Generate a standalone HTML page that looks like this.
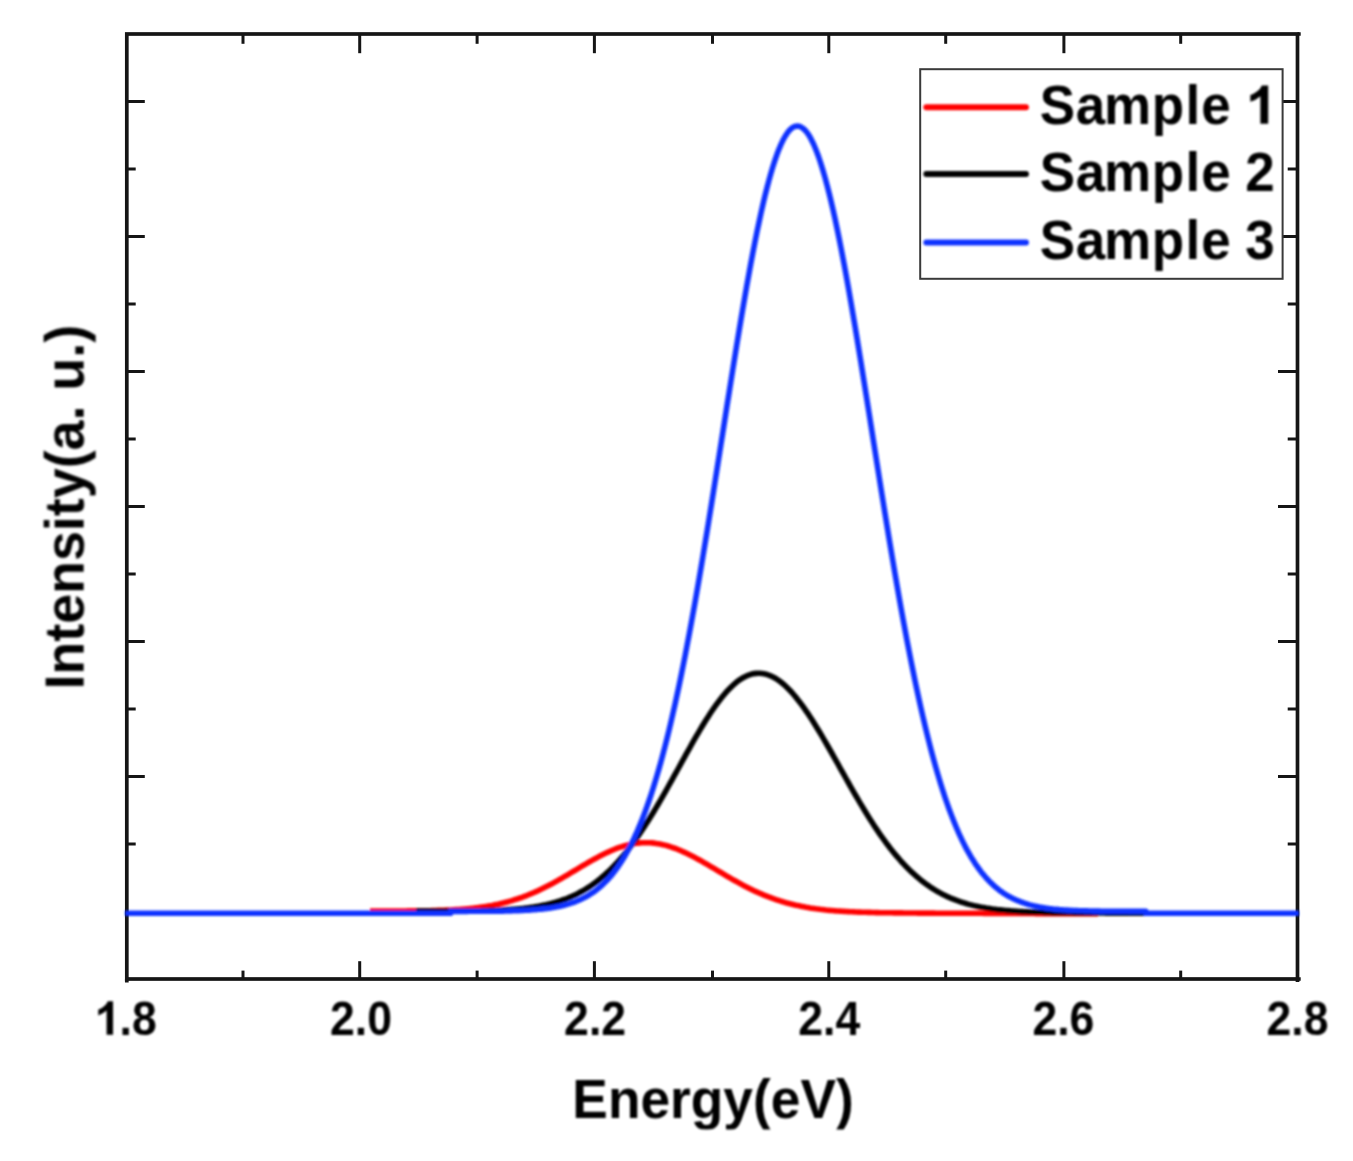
<!DOCTYPE html>
<html><head><meta charset="utf-8"><title>PL spectra</title>
<style>
html,body{margin:0;padding:0;background:#fff;}
body{width:1353px;height:1161px;overflow:hidden;}
svg{display:block;}
.t{font-family:"Liberation Sans",sans-serif;font-weight:bold;fill:#000;}
</style></head><body>
<svg width="1353" height="1161" viewBox="0 0 1353 1161">
<defs><filter id="soft" x="0" y="0" width="1353" height="1161" filterUnits="userSpaceOnUse"><feGaussianBlur stdDeviation="0.8"/></filter></defs>
<rect width="1353" height="1161" fill="#fff"/>
<rect x="126.8" y="34.0" width="1170.7" height="945.0" fill="none" stroke="#151515" stroke-width="3.7"/>
<path d="M126.8 979.0V982.4M1297.5 979.0V982.0M1297.5 34.0H1300.7M1297.5 979.0H1300.7" stroke="#151515" stroke-width="3.7" fill="none"/>
<line x1="243.0" y1="979.0" x2="243.0" y2="970.6" stroke="#151515" stroke-width="3.0"/>
<line x1="243.0" y1="34.0" x2="243.0" y2="43.8" stroke="#151515" stroke-width="3.0"/>
<line x1="359.7" y1="979.0" x2="359.7" y2="961.2" stroke="#151515" stroke-width="3.0"/>
<line x1="359.7" y1="34.0" x2="359.7" y2="53.2" stroke="#151515" stroke-width="3.0"/>
<line x1="477.1" y1="979.0" x2="477.1" y2="970.6" stroke="#151515" stroke-width="3.0"/>
<line x1="477.1" y1="34.0" x2="477.1" y2="43.8" stroke="#151515" stroke-width="3.0"/>
<line x1="594.4" y1="979.0" x2="594.4" y2="961.2" stroke="#151515" stroke-width="3.0"/>
<line x1="594.4" y1="34.0" x2="594.4" y2="53.2" stroke="#151515" stroke-width="3.0"/>
<line x1="712.5" y1="979.0" x2="712.5" y2="970.6" stroke="#151515" stroke-width="3.0"/>
<line x1="712.5" y1="34.0" x2="712.5" y2="43.8" stroke="#151515" stroke-width="3.0"/>
<line x1="828.8" y1="979.0" x2="828.8" y2="961.2" stroke="#151515" stroke-width="3.0"/>
<line x1="828.8" y1="34.0" x2="828.8" y2="53.2" stroke="#151515" stroke-width="3.0"/>
<line x1="945.7" y1="979.0" x2="945.7" y2="970.6" stroke="#151515" stroke-width="3.0"/>
<line x1="945.7" y1="34.0" x2="945.7" y2="43.8" stroke="#151515" stroke-width="3.0"/>
<line x1="1063.9" y1="979.0" x2="1063.9" y2="961.2" stroke="#151515" stroke-width="3.0"/>
<line x1="1063.9" y1="34.0" x2="1063.9" y2="53.2" stroke="#151515" stroke-width="3.0"/>
<line x1="1180.7" y1="979.0" x2="1180.7" y2="970.6" stroke="#151515" stroke-width="3.0"/>
<line x1="1180.7" y1="34.0" x2="1180.7" y2="43.8" stroke="#151515" stroke-width="3.0"/>
<line x1="126.8" y1="844.0" x2="135.7" y2="844.0" stroke="#151515" stroke-width="3.0"/>
<line x1="1297.5" y1="844.0" x2="1287.7" y2="844.0" stroke="#151515" stroke-width="3.0"/>
<line x1="126.8" y1="776.5" x2="144.8" y2="776.5" stroke="#151515" stroke-width="3.0"/>
<line x1="1297.5" y1="776.5" x2="1278.0" y2="776.5" stroke="#151515" stroke-width="3.0"/>
<line x1="126.8" y1="709.0" x2="135.7" y2="709.0" stroke="#151515" stroke-width="3.0"/>
<line x1="1297.5" y1="709.0" x2="1287.7" y2="709.0" stroke="#151515" stroke-width="3.0"/>
<line x1="126.8" y1="641.5" x2="144.8" y2="641.5" stroke="#151515" stroke-width="3.0"/>
<line x1="1297.5" y1="641.5" x2="1278.0" y2="641.5" stroke="#151515" stroke-width="3.0"/>
<line x1="126.8" y1="574.0" x2="135.7" y2="574.0" stroke="#151515" stroke-width="3.0"/>
<line x1="1297.5" y1="574.0" x2="1287.7" y2="574.0" stroke="#151515" stroke-width="3.0"/>
<line x1="126.8" y1="506.5" x2="144.8" y2="506.5" stroke="#151515" stroke-width="3.0"/>
<line x1="1297.5" y1="506.5" x2="1278.0" y2="506.5" stroke="#151515" stroke-width="3.0"/>
<line x1="126.8" y1="439.0" x2="135.7" y2="439.0" stroke="#151515" stroke-width="3.0"/>
<line x1="1297.5" y1="439.0" x2="1287.7" y2="439.0" stroke="#151515" stroke-width="3.0"/>
<line x1="126.8" y1="371.5" x2="144.8" y2="371.5" stroke="#151515" stroke-width="3.0"/>
<line x1="1297.5" y1="371.5" x2="1278.0" y2="371.5" stroke="#151515" stroke-width="3.0"/>
<line x1="126.8" y1="304.0" x2="135.7" y2="304.0" stroke="#151515" stroke-width="3.0"/>
<line x1="1297.5" y1="304.0" x2="1287.7" y2="304.0" stroke="#151515" stroke-width="3.0"/>
<line x1="126.8" y1="236.5" x2="144.8" y2="236.5" stroke="#151515" stroke-width="3.0"/>
<line x1="1297.5" y1="236.5" x2="1278.0" y2="236.5" stroke="#151515" stroke-width="3.0"/>
<line x1="126.8" y1="169.0" x2="135.7" y2="169.0" stroke="#151515" stroke-width="3.0"/>
<line x1="1297.5" y1="169.0" x2="1287.7" y2="169.0" stroke="#151515" stroke-width="3.0"/>
<line x1="126.8" y1="101.5" x2="144.8" y2="101.5" stroke="#151515" stroke-width="3.0"/>
<line x1="1297.5" y1="101.5" x2="1278.0" y2="101.5" stroke="#151515" stroke-width="3.0"/>
<g filter="url(#soft)">
<polyline points="370.0,911.0 372.0,911.0 374.0,911.0 376.0,911.0 378.0,911.0 380.0,911.0 382.0,911.0 384.0,911.0 386.0,911.0 388.0,911.0 390.0,911.0 392.0,911.0 394.0,911.0 396.0,911.0 398.0,911.0 400.0,911.0 402.0,911.0 404.0,911.0 406.0,911.0 408.0,910.9 410.0,910.9 412.0,910.9 414.0,910.9 416.0,910.9 418.0,910.8 420.0,910.8 422.0,910.8 424.0,910.8 426.0,910.7 428.0,910.7 430.0,910.7 432.0,910.6 434.0,910.6 436.0,910.5 438.0,910.4 440.0,910.4 442.0,910.3 444.0,910.2 446.0,910.1 448.0,910.1 450.0,910.0 452.0,909.9 454.0,909.7 456.0,909.6 458.0,909.5 460.0,909.4 462.0,909.2 464.0,909.0 466.0,908.9 468.0,908.7 470.0,908.5 472.0,908.3 474.0,908.1 476.0,907.8 478.0,907.6 480.0,907.3 482.0,907.0 484.0,906.7 486.0,906.4 488.0,906.1 490.0,905.7 492.0,905.4 494.0,905.0 496.0,904.6 498.0,904.2 500.0,903.7 502.0,903.2 504.0,902.8 506.0,902.2 508.0,901.7 510.0,901.1 512.0,900.6 514.0,899.9 516.0,899.3 518.0,898.7 520.0,898.0 522.0,897.3 524.0,896.5 526.0,895.8 528.0,895.0 530.0,894.2 532.0,893.3 534.0,892.5 536.0,891.6 538.0,890.7 540.0,889.7 542.0,888.8 544.0,887.8 546.0,886.8 548.0,885.8 550.0,884.7 552.0,883.7 554.0,882.6 556.0,881.5 558.0,880.4 560.0,879.2 562.0,878.1 564.0,876.9 566.0,875.8 568.0,874.6 570.0,873.4 572.0,872.2 574.0,871.0 576.0,869.8 578.0,868.6 580.0,867.4 582.0,866.2 584.0,865.0 586.0,863.9 588.0,862.7 590.0,861.5 592.0,860.4 594.0,859.3 596.0,858.2 598.0,857.1 600.0,856.0 602.0,855.0 604.0,854.0 606.0,853.0 608.0,852.1 610.0,851.2 612.0,850.3 614.0,849.5 616.0,848.7 618.0,847.9 620.0,847.2 622.0,846.6 624.0,845.9 626.0,845.4 628.0,844.9 630.0,844.4 632.0,844.0 634.0,843.6 636.0,843.3 638.0,843.1 640.0,842.9 642.0,842.8 644.0,842.7 646.0,842.7 648.0,842.7 650.0,842.8 652.0,842.9 654.0,843.1 656.0,843.4 658.0,843.7 660.0,844.0 662.0,844.5 664.0,844.9 666.0,845.4 668.0,846.0 670.0,846.6 672.0,847.3 674.0,848.0 676.0,848.7 678.0,849.5 680.0,850.3 682.0,851.2 684.0,852.1 686.0,853.0 688.0,854.0 690.0,855.0 692.0,856.0 694.0,857.0 696.0,858.1 698.0,859.2 700.0,860.3 702.0,861.4 704.0,862.6 706.0,863.7 708.0,864.9 710.0,866.1 712.0,867.3 714.0,868.4 716.0,869.6 718.0,870.8 720.0,872.0 722.0,873.2 724.0,874.4 726.0,875.6 728.0,876.8 730.0,877.9 732.0,879.1 734.0,880.2 736.0,881.3 738.0,882.4 740.0,883.5 742.0,884.6 744.0,885.7 746.0,886.7 748.0,887.7 750.0,888.7 752.0,889.7 754.0,890.7 756.0,891.6 758.0,892.5 760.0,893.4 762.0,894.2 764.0,895.1 766.0,895.9 768.0,896.7 770.0,897.4 772.0,898.2 774.0,898.9 776.0,899.6 778.0,900.2 780.0,900.9 782.0,901.5 784.0,902.1 786.0,902.7 788.0,903.2 790.0,903.7 792.0,904.2 794.0,904.7 796.0,905.2 798.0,905.6 800.0,906.0 802.0,906.4 804.0,906.8 806.0,907.2 808.0,907.5 810.0,907.9 812.0,908.2 814.0,908.5 816.0,908.8 818.0,909.0 820.0,909.3 822.0,909.5 824.0,909.7 826.0,910.0 828.0,910.2 830.0,910.4 832.0,910.5 834.0,910.7 836.0,910.9 838.0,911.0 840.0,911.1 842.0,911.3 844.0,911.4 846.0,911.5 848.0,911.6 850.0,911.7 852.0,911.8 854.0,911.9 856.0,912.0 858.0,912.1 860.0,912.1 862.0,912.2 864.0,912.3 866.0,912.3 868.0,912.4 870.0,912.4 872.0,912.5 874.0,912.5 876.0,912.6 878.0,912.6 880.0,912.7 882.0,912.7 884.0,912.7 886.0,912.8 888.0,912.8 890.0,912.8 892.0,912.8 894.0,912.9 896.0,912.9 898.0,912.9 900.0,912.9 902.0,912.9 904.0,913.0 906.0,913.0 908.0,913.0 910.0,913.0 912.0,913.0 914.0,913.0 916.0,913.0 918.0,913.1 920.0,913.1 922.0,913.1 924.0,913.1 926.0,913.1 928.0,913.1 930.0,913.1 932.0,913.1 934.0,913.1 936.0,913.2 938.0,913.2 940.0,913.2 942.0,913.2 944.0,913.2 946.0,913.2 948.0,913.2 950.0,913.2 952.0,913.2 954.0,913.2 956.0,913.2 958.0,913.3 960.0,913.3 962.0,913.3 964.0,913.3 966.0,913.3 968.0,913.3 970.0,913.3 972.0,913.3 974.0,913.3 976.0,913.3 978.0,913.3 980.0,913.3 982.0,913.3 984.0,913.4 986.0,913.4 988.0,913.4 990.0,913.4 992.0,913.4 994.0,913.4 996.0,913.4 998.0,913.4 1000.0,913.4 1002.0,913.4 1004.0,913.4 1006.0,913.4 1008.0,913.4 1010.0,913.5 1012.0,913.5 1014.0,913.5 1016.0,913.5 1018.0,913.5 1020.0,913.5 1022.0,913.5 1024.0,913.5 1026.0,913.5 1028.0,913.5 1030.0,913.5 1032.0,913.5 1034.0,913.5 1036.0,913.6 1038.0,913.6 1040.0,913.6 1042.0,913.6 1044.0,913.6 1046.0,913.6 1048.0,913.6 1050.0,913.6 1052.0,913.6 1054.0,913.6 1056.0,913.6 1058.0,913.6 1060.0,913.6 1062.0,913.7 1064.0,913.7 1066.0,913.7 1068.0,913.7 1070.0,913.7 1072.0,913.7 1074.0,913.7 1076.0,913.7 1078.0,913.7 1080.0,913.7 1082.0,913.7 1084.0,913.7 1086.0,913.7 1088.0,913.8 1090.0,913.8 1092.0,913.8 1094.0,913.8 1096.0,913.8 1098.0,913.8" fill="none" stroke="#ff0000" stroke-width="5.6" stroke-linejoin="round" stroke-linecap="butt"/>
<polyline points="416.0,911.0 418.0,911.0 420.0,911.0 422.0,911.0 424.0,911.0 426.0,911.0 428.0,911.0 430.0,911.0 432.0,911.0 434.0,911.0 436.0,911.0 438.0,911.0 440.0,911.0 442.0,911.0 444.0,911.0 446.0,911.0 448.0,911.0 450.0,911.0 452.0,911.0 454.0,911.0 456.0,910.9 458.0,910.9 460.0,910.9 462.0,910.9 464.0,910.9 466.0,910.9 468.0,910.9 470.0,910.8 472.0,910.8 474.0,910.8 476.0,910.8 478.0,910.7 480.0,910.7 482.0,910.6 484.0,910.6 486.0,910.5 488.0,910.5 490.0,910.4 492.0,910.4 494.0,910.3 496.0,910.2 498.0,910.1 500.0,910.0 502.0,910.0 504.0,909.8 506.0,909.7 508.0,909.6 510.0,909.5 512.0,909.3 514.0,909.2 516.0,909.0 518.0,908.9 520.0,908.7 522.0,908.5 524.0,908.3 526.0,908.0 528.0,907.8 530.0,907.5 532.0,907.2 534.0,906.9 536.0,906.6 538.0,906.3 540.0,905.9 542.0,905.5 544.0,905.1 546.0,904.7 548.0,904.2 550.0,903.8 552.0,903.3 554.0,902.7 556.0,902.1 558.0,901.5 560.0,900.9 562.0,900.2 564.0,899.5 566.0,898.8 568.0,898.0 570.0,897.1 572.0,896.3 574.0,895.4 576.0,894.4 578.0,893.4 580.0,892.3 582.0,891.2 584.0,890.1 586.0,888.9 588.0,887.6 590.0,886.3 592.0,885.0 594.0,883.5 596.0,882.1 598.0,880.5 600.0,878.9 602.0,877.2 604.0,875.5 606.0,873.7 608.0,871.9 610.0,870.0 612.0,868.0 614.0,865.9 616.0,863.8 618.0,861.6 620.0,859.4 622.0,857.1 624.0,854.7 626.0,852.2 628.0,849.7 630.0,847.1 632.0,844.5 634.0,841.7 636.0,838.9 638.0,836.1 640.0,833.2 642.0,830.2 644.0,827.2 646.0,824.1 648.0,821.0 650.0,817.8 652.0,814.5 654.0,811.2 656.0,807.9 658.0,804.5 660.0,801.1 662.0,797.6 664.0,794.1 666.0,790.6 668.0,787.0 670.0,783.4 672.0,779.8 674.0,776.2 676.0,772.6 678.0,769.0 680.0,765.3 682.0,761.7 684.0,758.1 686.0,754.4 688.0,750.8 690.0,747.3 692.0,743.7 694.0,740.2 696.0,736.7 698.0,733.3 700.0,729.9 702.0,726.5 704.0,723.2 706.0,720.0 708.0,716.9 710.0,713.8 712.0,710.8 714.0,707.9 716.0,705.0 718.0,702.3 720.0,699.7 722.0,697.1 724.0,694.7 726.0,692.4 728.0,690.2 730.0,688.1 732.0,686.2 734.0,684.3 736.0,682.6 738.0,681.1 740.0,679.6 742.0,678.3 744.0,677.2 746.0,676.2 748.0,675.3 750.0,674.6 752.0,674.0 754.0,673.6 756.0,673.4 758.0,673.2 760.0,673.3 762.0,673.5 764.0,673.8 766.0,674.2 768.0,674.9 770.0,675.6 772.0,676.5 774.0,677.5 776.0,678.7 778.0,680.0 780.0,681.4 782.0,683.0 784.0,684.7 786.0,686.5 788.0,688.5 790.0,690.5 792.0,692.7 794.0,695.0 796.0,697.4 798.0,699.9 800.0,702.5 802.0,705.1 804.0,707.9 806.0,710.8 808.0,713.7 810.0,716.7 812.0,719.8 814.0,723.0 816.0,726.2 818.0,729.5 820.0,732.8 822.0,736.2 824.0,739.6 826.0,743.0 828.0,746.5 830.0,750.0 832.0,753.5 834.0,757.1 836.0,760.7 838.0,764.2 840.0,767.8 842.0,771.4 844.0,774.9 846.0,778.5 848.0,782.0 850.0,785.6 852.0,789.1 854.0,792.6 856.0,796.0 858.0,799.4 860.0,802.8 862.0,806.2 864.0,809.5 866.0,812.8 868.0,816.0 870.0,819.2 872.0,822.3 874.0,825.4 876.0,828.4 878.0,831.4 880.0,834.3 882.0,837.1 884.0,839.9 886.0,842.7 888.0,845.3 890.0,848.0 892.0,850.5 894.0,853.0 896.0,855.4 898.0,857.7 900.0,860.0 902.0,862.3 904.0,864.4 906.0,866.5 908.0,868.5 910.0,870.5 912.0,872.4 914.0,874.2 916.0,876.0 918.0,877.7 920.0,879.4 922.0,881.0 924.0,882.5 926.0,884.0 928.0,885.4 930.0,886.8 932.0,888.1 934.0,889.4 936.0,890.6 938.0,891.8 940.0,892.9 942.0,894.0 944.0,895.0 946.0,895.9 948.0,896.9 950.0,897.8 952.0,898.6 954.0,899.4 956.0,900.2 958.0,900.9 960.0,901.6 962.0,902.3 964.0,902.9 966.0,903.5 968.0,904.1 970.0,904.6 972.0,905.1 974.0,905.6 976.0,906.1 978.0,906.5 980.0,906.9 982.0,907.3 984.0,907.6 986.0,908.0 988.0,908.3 990.0,908.6 992.0,908.9 994.0,909.2 996.0,909.4 998.0,909.7 1000.0,909.9 1002.0,910.1 1004.0,910.3 1006.0,910.5 1008.0,910.6 1010.0,910.8 1012.0,911.0 1014.0,911.1 1016.0,911.2 1018.0,911.4 1020.0,911.5 1022.0,911.6 1024.0,911.7 1026.0,911.8 1028.0,911.9 1030.0,912.0 1032.0,912.0 1034.0,912.1 1036.0,912.2 1038.0,912.2 1040.0,912.3 1042.0,912.3 1044.0,912.4 1046.0,912.4 1048.0,912.5 1050.0,912.5 1052.0,912.6 1054.0,912.6 1056.0,912.6 1058.0,912.7 1060.0,912.7 1062.0,912.7 1064.0,912.8 1066.0,912.8 1068.0,912.8 1070.0,912.8 1072.0,912.8 1074.0,912.9 1076.0,912.9 1078.0,912.9 1080.0,912.9 1082.0,912.9 1084.0,912.9 1086.0,912.9 1088.0,913.0 1090.0,913.0 1092.0,913.0 1094.0,913.0 1096.0,913.0 1098.0,913.0 1100.0,913.0 1102.0,913.0 1104.0,913.0 1106.0,913.1 1108.0,913.1 1110.0,913.1 1112.0,913.1 1114.0,913.1 1116.0,913.1 1118.0,913.1 1120.0,913.1 1122.0,913.1 1124.0,913.1 1126.0,913.1 1128.0,913.1 1130.0,913.1 1132.0,913.2 1134.0,913.2 1136.0,913.2 1138.0,913.2 1140.0,913.2 1142.0,913.2 1144.0,913.2 1146.0,913.2" fill="none" stroke="#000000" stroke-width="5.6" stroke-linejoin="round" stroke-linecap="butt"/>
<polyline points="125.0,913.2 127.0,913.2 129.0,913.2 131.0,913.2 133.0,913.2 135.0,913.2 137.0,913.2 139.0,913.2 141.0,913.2 143.0,913.2 145.0,913.2 147.0,913.2 149.0,913.2 151.0,913.2 153.0,913.2 155.0,913.2 157.0,913.2 159.0,913.2 161.0,913.2 163.0,913.2 165.0,913.2 167.0,913.2 169.0,913.2 171.0,913.2 173.0,913.2 175.0,913.2 177.0,913.2 179.0,913.2 181.0,913.2 183.0,913.2 185.0,913.2 187.0,913.2 189.0,913.2 191.0,913.2 193.0,913.2 195.0,913.2 197.0,913.2 199.0,913.2 201.0,913.2 203.0,913.2 205.0,913.2 207.0,913.2 209.0,913.2 211.0,913.2 213.0,913.2 215.0,913.2 217.0,913.2 219.0,913.2 221.0,913.2 223.0,913.2 225.0,913.2 227.0,913.2 229.0,913.2 231.0,913.2 233.0,913.2 235.0,913.2 237.0,913.2 239.0,913.2 241.0,913.2 243.0,913.2 245.0,913.2 247.0,913.2 249.0,913.2 251.0,913.2 253.0,913.2 255.0,913.2 257.0,913.2 259.0,913.2 261.0,913.2 263.0,913.2 265.0,913.2 267.0,913.2 269.0,913.2 271.0,913.2 273.0,913.2 275.0,913.2 277.0,913.2 279.0,913.2 281.0,913.2 283.0,913.2 285.0,913.2 287.0,913.2 289.0,913.2 291.0,913.2 293.0,913.2 295.0,913.2 297.0,913.2 299.0,913.2 301.0,913.2 303.0,913.2 305.0,913.2 307.0,913.2 309.0,913.2 311.0,913.2 313.0,913.2 315.0,913.2 317.0,913.2 319.0,913.2 321.0,913.2 323.0,913.2 325.0,913.2 327.0,913.2 329.0,913.2 331.0,913.2 333.0,913.2 335.0,913.2 337.0,913.2 339.0,913.2 341.0,913.2 343.0,913.2 345.0,913.2 347.0,913.2 349.0,913.2 351.0,913.2 353.0,913.2 355.0,913.2 357.0,913.2 359.0,913.2 361.0,913.2 363.0,913.2 365.0,913.2 367.0,913.2 369.0,913.2 371.0,913.2 373.0,913.2 375.0,913.2 377.0,913.2 379.0,913.2 381.0,913.2 383.0,913.2 385.0,913.2 387.0,913.2 389.0,913.2 391.0,913.2 393.0,913.2 395.0,913.2 397.0,913.2 399.0,913.2 401.0,913.2 403.0,913.2 405.0,913.2 407.0,913.2 409.0,913.2 411.0,913.2 413.0,913.2 415.0,913.2 417.0,913.2 419.0,913.2 421.0,913.2 423.0,913.2 425.0,913.2 427.0,913.2 429.0,913.2 431.0,913.2 433.0,913.2 435.0,913.2 437.0,913.2 439.0,913.2 441.0,913.2 443.0,913.2 445.0,913.2 447.0,913.2 449.0,913.2 450.5,913.2 450.5,911.4 451.0,911.4 453.0,911.4 455.0,911.4 457.0,911.4 459.0,911.4 461.0,911.4 463.0,911.4 465.0,911.4 467.0,911.4 469.0,911.3 471.0,911.3 473.0,911.3 475.0,911.3 477.0,911.3 479.0,911.3 481.0,911.3 483.0,911.3 485.0,911.3 487.0,911.3 489.0,911.2 491.0,911.2 493.0,911.2 495.0,911.2 497.0,911.1 499.0,911.1 501.0,911.1 503.0,911.1 505.0,911.0 507.0,911.0 509.0,910.9 511.0,910.9 513.0,910.8 515.0,910.8 517.0,910.7 519.0,910.6 521.0,910.5 523.0,910.4 525.0,910.3 527.0,910.2 529.0,910.1 531.0,910.0 533.0,909.8 535.0,909.7 537.0,909.5 539.0,909.3 541.0,909.1 543.0,908.9 545.0,908.7 547.0,908.4 549.0,908.2 551.0,907.9 553.0,907.6 555.0,907.2 557.0,906.8 559.0,906.4 561.0,906.0 563.0,905.5 565.0,905.0 567.0,904.4 569.0,903.9 571.0,903.2 573.0,902.5 575.0,901.8 577.0,901.0 579.0,900.2 581.0,899.3 583.0,898.3 585.0,897.3 587.0,896.2 589.0,895.0 591.0,893.7 593.0,892.4 595.0,890.9 597.0,889.4 599.0,887.8 601.0,886.1 603.0,884.2 605.0,882.3 607.0,880.3 609.0,878.1 611.0,875.8 613.0,873.4 615.0,870.8 617.0,868.1 619.0,865.2 621.0,862.2 623.0,859.0 625.0,855.7 627.0,852.2 629.0,848.5 631.0,844.6 633.0,840.6 635.0,836.3 637.0,831.9 639.0,827.2 641.0,822.4 643.0,817.3 645.0,812.0 647.0,806.5 649.0,800.8 651.0,794.8 653.0,788.6 655.0,782.2 657.0,775.5 659.0,768.6 661.0,761.4 663.0,754.0 665.0,746.4 667.0,738.5 669.0,730.3 671.0,721.9 673.0,713.2 675.0,704.3 677.0,695.2 679.0,685.8 681.0,676.1 683.0,666.3 685.0,656.2 687.0,645.8 689.0,635.3 691.0,624.5 693.0,613.5 695.0,602.4 697.0,591.0 699.0,579.5 701.0,567.7 703.0,555.9 705.0,543.8 707.0,531.7 709.0,519.4 711.0,507.0 713.0,494.5 715.0,481.9 717.0,469.3 719.0,456.6 721.0,443.9 723.0,431.2 725.0,418.5 727.0,405.8 729.0,393.2 731.0,380.6 733.0,368.1 735.0,355.7 737.0,343.4 739.0,331.3 741.0,319.3 743.0,307.5 745.0,295.9 747.0,284.6 749.0,273.4 751.0,262.6 753.0,252.0 755.0,241.8 757.0,231.8 759.0,222.3 761.0,213.0 763.0,204.2 765.0,195.7 767.0,187.7 769.0,180.1 771.0,173.0 773.0,166.3 775.0,160.1 777.0,154.3 779.0,149.1 781.0,144.4 783.0,140.2 785.0,136.5 787.0,133.4 789.0,130.8 791.0,128.8 793.0,127.3 795.0,126.4 797.0,126.0 799.0,126.2 801.0,127.0 803.0,128.3 805.0,130.1 807.0,132.5 809.0,135.4 811.0,138.9 813.0,142.9 815.0,147.5 817.0,152.5 819.0,158.0 821.0,164.1 823.0,170.6 825.0,177.5 827.0,184.9 829.0,192.8 831.0,201.0 833.0,209.7 835.0,218.7 837.0,228.2 839.0,237.9 841.0,248.0 843.0,258.4 845.0,269.1 847.0,280.1 849.0,291.3 851.0,302.8 853.0,314.4 855.0,326.3 857.0,338.3 859.0,350.5 861.0,362.8 863.0,375.2 865.0,387.7 867.0,400.3 869.0,412.9 871.0,425.5 873.0,438.2 875.0,450.9 877.0,463.5 879.0,476.1 881.0,488.7 883.0,501.1 885.0,513.5 887.0,525.8 889.0,538.0 891.0,550.0 893.0,561.9 895.0,573.7 897.0,585.3 899.0,596.7 901.0,607.9 903.0,618.9 905.0,629.8 907.0,640.4 909.0,650.8 911.0,661.0 913.0,670.9 915.0,680.7 917.0,690.1 919.0,699.4 921.0,708.4 923.0,717.1 925.0,725.7 927.0,733.9 929.0,741.9 931.0,749.7 933.0,757.2 935.0,764.5 937.0,771.5 939.0,778.3 941.0,784.9 943.0,791.2 945.0,797.3 947.0,803.1 949.0,808.7 951.0,814.1 953.0,819.3 955.0,824.3 957.0,829.0 959.0,833.6 961.0,837.9 963.0,842.1 965.0,846.1 967.0,849.8 969.0,853.4 971.0,856.9 973.0,860.1 975.0,863.3 977.0,866.2 979.0,869.0 981.0,871.7 983.0,874.2 985.0,876.5 987.0,878.8 989.0,880.9 991.0,882.9 993.0,884.8 995.0,886.6 997.0,888.3 999.0,889.9 1001.0,891.4 1003.0,892.8 1005.0,894.1 1007.0,895.3 1009.0,896.5 1011.0,897.5 1013.0,898.6 1015.0,899.5 1017.0,900.4 1019.0,901.2 1021.0,902.0 1023.0,902.7 1025.0,903.4 1027.0,904.0 1029.0,904.6 1031.0,905.1 1033.0,905.6 1035.0,906.1 1037.0,906.5 1039.0,906.9 1041.0,907.3 1043.0,907.6 1045.0,907.9 1047.0,908.2 1049.0,908.5 1051.0,908.7 1053.0,909.0 1055.0,909.2 1057.0,909.4 1059.0,909.6 1061.0,909.7 1063.0,909.9 1065.0,910.0 1067.0,910.1 1069.0,910.3 1071.0,910.4 1073.0,910.5 1075.0,910.5 1077.0,910.6 1079.0,910.7 1081.0,910.8 1083.0,910.8 1085.0,910.9 1087.0,910.9 1089.0,911.0 1091.0,911.0 1093.0,911.1 1095.0,911.1 1097.0,911.1 1099.0,911.1 1101.0,911.2 1103.0,911.2 1105.0,911.2 1107.0,911.2 1109.0,911.3 1111.0,911.3 1113.0,911.3 1115.0,911.3 1117.0,911.3 1119.0,911.3 1121.0,911.3 1123.0,911.3 1125.0,911.3 1127.0,911.3 1129.0,911.4 1131.0,911.4 1133.0,911.4 1135.0,911.4 1137.0,911.4 1139.0,911.4 1141.0,911.4 1143.0,911.4 1145.0,911.4 1145.7,911.4 1145.7,913.2 1147.0,913.2 1149.0,913.2 1151.0,913.2 1153.0,913.2 1155.0,913.2 1157.0,913.2 1159.0,913.2 1161.0,913.2 1163.0,913.2 1165.0,913.2 1167.0,913.2 1169.0,913.2 1171.0,913.2 1173.0,913.2 1175.0,913.2 1177.0,913.2 1179.0,913.2 1181.0,913.2 1183.0,913.2 1185.0,913.2 1187.0,913.2 1189.0,913.2 1191.0,913.2 1193.0,913.2 1195.0,913.2 1197.0,913.2 1199.0,913.2 1201.0,913.2 1203.0,913.2 1205.0,913.2 1207.0,913.2 1209.0,913.2 1211.0,913.2 1213.0,913.2 1215.0,913.2 1217.0,913.2 1219.0,913.2 1221.0,913.2 1223.0,913.2 1225.0,913.2 1227.0,913.2 1229.0,913.2 1231.0,913.2 1233.0,913.2 1235.0,913.2 1237.0,913.2 1239.0,913.2 1241.0,913.2 1243.0,913.2 1245.0,913.2 1247.0,913.2 1249.0,913.2 1251.0,913.2 1253.0,913.2 1255.0,913.2 1257.0,913.2 1259.0,913.2 1261.0,913.2 1263.0,913.2 1265.0,913.2 1267.0,913.2 1269.0,913.2 1271.0,913.2 1273.0,913.2 1275.0,913.2 1277.0,913.2 1279.0,913.2 1281.0,913.2 1283.0,913.2 1285.0,913.2 1287.0,913.2 1289.0,913.2 1291.0,913.2 1293.0,913.2 1295.0,913.2 1297.0,913.2 1299.0,913.2" fill="none" stroke="#1030ff" stroke-width="5.6" stroke-linejoin="round" stroke-linecap="butt"/>
</g>
<rect x="920.2" y="69.2" width="362.4" height="209.6" fill="#fff" stroke="#3a3a3a" stroke-width="2"/>
<g filter="url(#soft)">
<line x1="926.3" y1="107.2" x2="1026" y2="107.2" stroke="#ff0000" stroke-width="5.9" stroke-linecap="round"/>
<line x1="926.3" y1="174" x2="1026" y2="174" stroke="#000" stroke-width="5.9" stroke-linecap="round"/>
<line x1="926.3" y1="242.5" x2="1026" y2="242.5" stroke="#1030ff" stroke-width="5.9" stroke-linecap="round"/>
<text transform="translate(1038.5,123.8) scale(1,1.035)" font-size="53" class="t" x="1.20 37.35 65.42 113.14 147.02 162.65">Sample</text>
<path d="M806 0H525V-1059Q371 -915 162 -846V-1101Q272 -1137 401 -1237.5Q530 -1338 578 -1472H806Z" transform="translate(1245.86,123.80) scale(0.02769,0.02609)" fill="#000"/>
<text transform="translate(1038.5,191.4) scale(1,1.035)" font-size="53" class="t" x="1.20 37.35 65.42 113.14 147.02 162.65">Sample</text>
<text transform="translate(1245.26,191.40) scale(1,1.035)" font-size="53" text-anchor="start" class="t">2</text>
<text transform="translate(1038.5,259.2) scale(1,1.035)" font-size="53" class="t" x="1.20 37.35 65.42 113.14 147.02 162.65">Sample</text>
<text transform="translate(1245.26,259.20) scale(1,1.035)" font-size="53" text-anchor="start" class="t">3</text>
<path d="M806 0H525V-1059Q371 -915 162 -846V-1101Q272 -1137 401 -1237.5Q530 -1338 578 -1472H806Z" transform="translate(94.60,1034.80) scale(0.02287,0.02287)" fill="#000"/>
<text transform="translate(119.60,1034.80) scale(1,1.085)" font-size="44.6" text-anchor="start" class="t">.8</text>
<text transform="translate(360.94,1034.80) scale(1,1.085)" font-size="44.6" text-anchor="middle" class="t">2.0</text>
<text transform="translate(595.08,1034.80) scale(1,1.085)" font-size="44.6" text-anchor="middle" class="t">2.2</text>
<text transform="translate(829.22,1034.80) scale(1,1.085)" font-size="44.6" text-anchor="middle" class="t">2.4</text>
<text transform="translate(1063.36,1034.80) scale(1,1.085)" font-size="44.6" text-anchor="middle" class="t">2.6</text>
<text transform="translate(1297.50,1034.80) scale(1,1.085)" font-size="44.6" text-anchor="middle" class="t">2.8</text>
<text transform="translate(713.00,1117.80) scale(1,1.027)" font-size="53.3" text-anchor="middle" class="t">Energy(eV)</text>
<text transform="translate(84.1,507.2) rotate(-90) scale(1,1.03)" font-size="53.8" text-anchor="middle" class="t">Intensity(a. u.)</text>
</g>
</svg>
</body></html>
